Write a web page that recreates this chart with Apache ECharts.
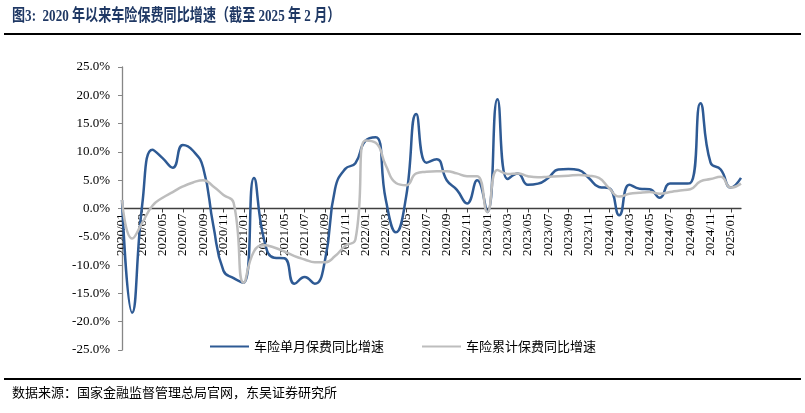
<!DOCTYPE html>
<html>
<head>
<meta charset="utf-8">
<script src="https://cdn.jsdelivr.net/npm/echarts@6.0.0/dist/echarts.min.js"></script>
<style>
    html, body { margin: 0; padding: 0; background: #fff; }
    #chart { width: 805px; height: 413px; }
</style>
</head>
<body>
<div id="chart"></div>
<script>
// 月份
const months = [
    '2020/01', '2020/02', '2020/03', '2020/04', '2020/05', '2020/06', '2020/07', '2020/08', '2020/09', '2020/10', '2020/11', '2020/12',
    '2021/01', '2021/02', '2021/03', '2021/04', '2021/05', '2021/06', '2021/07', '2021/08', '2021/09', '2021/10', '2021/11', '2021/12',
    '2022/01', '2022/02', '2022/03', '2022/04', '2022/05', '2022/06', '2022/07', '2022/08', '2022/09', '2022/10', '2022/11', '2022/12',
    '2023/01', '2023/02', '2023/03', '2023/04', '2023/05', '2023/06', '2023/07', '2023/08', '2023/09', '2023/10', '2023/11', '2023/12',
    '2024/01', '2024/02', '2024/03', '2024/04', '2024/05', '2024/06', '2024/07', '2024/08', '2024/09', '2024/10', '2024/11', '2024/12',
    '2025/01', '2025/02'
];

// 车险单月保费同比增速 (%)
const monthlyGrowth = [
    1.5, -18.4, 0.8, 10.4, 8.9, 7.2, 11.2, 10.2, 7.2, -3.0, -11.0, -12.3,
    -13.1, 5.4, -5.5, -8.7, -8.8, -13.3, -12.1, -13.3, -9.2, 3.5, 7.0, 8.0,
    12.0, 12.6, 1.5, -4.2, 2.1, 16.7, 8.1, 8.7, 5.0, 3.3, 0.9, 5.0,
    -0.6, 19.3, 5.2, 6.2, 4.2, 4.4, 5.4, 6.9, 7.0, 6.8, 5.4, 3.8,
    3.6, -1.2, 4.2, 3.5, 3.4, 1.9, 4.4, 4.4, 4.5, 18.6, 8.1, 6.9,
    3.7, 5.4
];

// 车险累计保费同比增速 (%)
const cumulativeGrowth = [
    1.5, -5.3, -2.5, 0.5, 1.9, 2.9, 3.9, 4.6, 5.0, 3.9, 2.4, 1.0,
    -13.1, -7.6, -6.5, -6.9, -7.6, -8.4, -9.0, -9.5, -9.5, -8.4, -6.6, -5.5,
    12.0, 11.6, 7.6, 4.5, 4.1, 6.2, 6.5, 6.6, 6.6, 6.2, 5.7, 5.7,
    -0.6, 6.8, 6.1, 6.2, 5.7, 5.5, 5.6, 5.7, 5.8, 5.9, 5.8, 5.4,
    3.6, 2.1, 2.6, 2.8, 2.9, 2.6, 2.9, 3.2, 3.4, 4.8, 5.2, 5.6,
    3.7, 4.4
];

const seriesNames = ['车险单月保费同比增速', '车险累计保费同比增速'];

const serif = "'Liberation Serif', 'Times New Roman', serif";
const cjk = "'Noto Sans CJK SC', sans-serif";

// 绘图区
const gridTop = 67;
const gridBottom = 63;
const gridHeight = 413 - gridTop - gridBottom;

const chart = echarts.init(document.getElementById('chart'));

chart.setOption({
    animation: false,
    color: ['#2E5A94', '#BDBDBD'],
    graphic: [
        {
            // 标题(窄体)
            type: 'text',
            x: 12,
            y: 8,
            scaleX: 0.77,
            style: {
                text: '图3:  2020 年以来车险保费同比增速（截至 2025 年 2 月）',
                font: "bold 17px 'Liberation Serif', 'Noto Sans CJK SC', serif",
                fill: '#1F3864'
            }
        },
        {
            type: 'line',
            shape: { x1: 4, y1: 34, x2: 801, y2: 34 },
            style: { stroke: '#000', lineWidth: 2 }
        },
        {
            type: 'line',
            shape: { x1: 4, y1: 379, x2: 801, y2: 379 },
            style: { stroke: '#000', lineWidth: 2 }
        },
        {
            type: 'text',
            x: 12,
            y: 386,
            style: {
                text: '数据来源：国家金融监督管理总局官网，东吴证券研究所',
                font: "13px 'Noto Sans CJK SC', sans-serif",
                fill: '#000'
            }
        }
    ],
    legend: {
        left: 205,
        top: 335,
        itemGap: 38,
        itemWidth: 39,
        itemHeight: 2,
        icon: 'rect',
        textStyle: {
            fontFamily: cjk,
            fontSize: 13,
            color: '#000'
        },
        data: seriesNames
    },
    grid: {
        left: 122,
        right: 64,
        top: gridTop,
        bottom: gridBottom
    },
    xAxis: {
        type: 'category',
        data: months,
        boundaryGap: false,
        // 轴放在 0 值处
        offset: -gridHeight / 2,
        axisLine: {
            onZero: false,
            lineStyle: { color: '#404040', width: 1.3 }
        },
        axisTick: {
            interval: 1,
            length: 4,
            lineStyle: { color: '#404040' }
        },
        axisLabel: {
            interval: 1,
            rotate: 90,
            margin: 5,
            fontFamily: serif,
            fontSize: 13,
            color: '#000'
        },
        splitLine: { show: false }
    },
    yAxis: {
        type: 'value',
        min: -25,
        max: 25,
        interval: 5,
        axisLine: {
            show: true,
            lineStyle: { color: '#868686', width: 1.3 }
        },
        axisTick: {
            show: true,
            length: 4,
            lineStyle: { color: '#868686' }
        },
        axisLabel: {
            margin: 12,
            fontFamily: serif,
            fontSize: 13,
            color: '#000',
            formatter: (v) => v.toFixed(1) + '%'
        },
        splitLine: { show: false }
    },
    series: [
        {
            name: seriesNames[0],
            type: 'line',
            data: monthlyGrowth,
            smooth: true,
            symbol: 'none',
            lineStyle: { width: 2.5 }
        },
        {
            name: seriesNames[1],
            type: 'line',
            data: cumulativeGrowth,
            smooth: true,
            symbol: 'none',
            lineStyle: { width: 2.5 }
        }
    ]
});
</script>
</body>
</html>
